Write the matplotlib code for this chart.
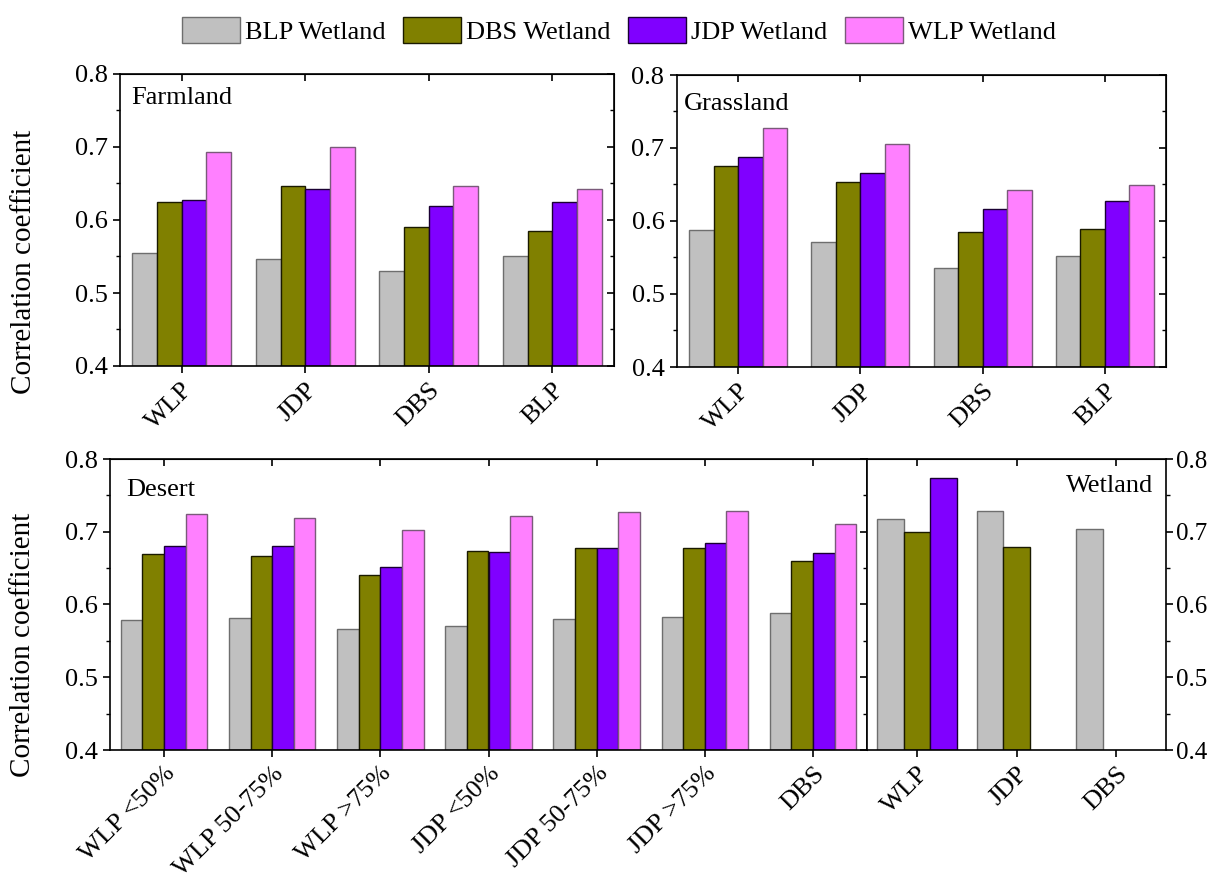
import numpy as np
import matplotlib.pyplot as plt
from matplotlib.patches import Patch
from matplotlib.ticker import MultipleLocator

plt.rcParams['font.family'] = ['Liberation Serif', 'DejaVu Serif']
plt.rcParams['font.size'] = 18

# Series (wetland groups) and their colours
series = ['BLP Wetland', 'DBS Wetland', 'JDP Wetland', 'WLP Wetland']
colors = ['#C0C0C0', '#808000', '#8000FF', '#FF80FF']
edges = ['#6E6E6E', '#1A1A00', '#1A0033', '#7A5A7A']

# Farmland
farm_labels = ['WLP', 'JDP', 'DBS', 'BLP']
farm_blp = [0.555, 0.547, 0.530, 0.550]
farm_dbs = [0.625, 0.646, 0.590, 0.585]
farm_jdp = [0.628, 0.642, 0.619, 0.625]
farm_wlp = [0.693, 0.700, 0.647, 0.643]

# Grassland
grass_labels = ['WLP', 'JDP', 'DBS', 'BLP']
grass_blp = [0.588, 0.571, 0.535, 0.552]
grass_dbs = [0.675, 0.653, 0.585, 0.589]
grass_jdp = [0.688, 0.666, 0.617, 0.627]
grass_wlp = [0.727, 0.706, 0.642, 0.649]

# Desert
desert_labels = ['WLP <50%', 'WLP 50-75%', 'WLP >75%', 'JDP <50%',
                 'JDP 50-75%', 'JDP >75%', 'DBS']
desert_blp = [0.579, 0.581, 0.567, 0.570, 0.580, 0.583, 0.589]
desert_dbs = [0.670, 0.666, 0.640, 0.674, 0.677, 0.677, 0.660]
desert_jdp = [0.680, 0.680, 0.652, 0.672, 0.678, 0.684, 0.671]
desert_wlp = [0.724, 0.719, 0.702, 0.722, 0.727, 0.729, 0.710]

# Wetland (no WLP series, JDP only for WLP group)
wet_labels = ['WLP', 'JDP', 'DBS']
wet_blp = [0.718, 0.729, 0.704]
wet_dbs = [0.699, 0.679, np.nan]
wet_jdp = [0.774, np.nan, np.nan]

fig = plt.figure(figsize=(12.09, 8.8), dpi=100)
W, H = 1209, 880


def rect(x0, x1, y0, y1):
    return [x0 / W, 1 - y1 / H, (x1 - x0) / W, (y1 - y0) / H]


def draw_panel(ax, labels, groups, name, name_pos, ha='left', ylab_side='left',
               mirror_left=True, mirror_right=True):
    n = len(groups)
    x = np.arange(len(labels))
    width = 0.8 / n
    for i, vals in enumerate(groups):
        off = (i - (n - 1) / 2) * width
        ax.bar(x + off, np.array(vals) - 0.4, width, bottom=0.4,
               color=colors[i], edgecolor=edges[i], linewidth=1.0)
    ax.set_xlim(-0.5, len(labels) - 0.5)
    ax.set_ylim(0.4, 0.8)
    ax.set_xticks(x)
    ax.set_xticklabels(labels, rotation=45, ha='right', va='top',
                       rotation_mode='anchor', fontsize=19)
    ax.yaxis.set_major_locator(MultipleLocator(0.1))
    ax.yaxis.set_minor_locator(MultipleLocator(0.05))
    ax.tick_params(axis='both', which='major', direction='out', length=5,
                   width=1.2, labelsize=19, pad=4)
    ax.tick_params(axis='y', which='minor', direction='out', length=3, width=1.0)
    if ylab_side == 'right':
        ax.yaxis.tick_right()
        ax.tick_params(axis='y', which='major', labelsize=18, pad=2)
    for sp in ax.spines.values():
        sp.set_linewidth(1.2)
    # inward ticks on the mirrored sides
    top = ax.secondary_xaxis('top')
    top.set_xticks(x)
    top.tick_params(direction='in', length=5, width=1.2, labeltop=False)
    other = 'right' if ylab_side == 'left' else 'left'
    if (other == 'right' and mirror_right) or (other == 'left' and mirror_left):
        sec = ax.secondary_yaxis(other)
        sec.yaxis.set_major_locator(MultipleLocator(0.1))
        sec.yaxis.set_minor_locator(MultipleLocator(0.05))
        sec.tick_params(which='major', direction='in', length=5, width=1.2,
                        labelleft=False, labelright=False)
        sec.tick_params(which='minor', direction='in', length=3, width=1.0)
    ax.text(name_pos[0], name_pos[1], name, transform=ax.transAxes,
            ha=ha, va='top', fontsize=19)


ax1 = fig.add_axes(rect(120, 614, 74, 366))
draw_panel(ax1, farm_labels, [farm_blp, farm_dbs, farm_jdp, farm_wlp],
           'Farmland', (0.022, 0.955))

ax2 = fig.add_axes(rect(677, 1166, 75, 367))
draw_panel(ax2, grass_labels, [grass_blp, grass_dbs, grass_jdp, grass_wlp],
           'Grassland', (0.014, 0.94))

ax3 = fig.add_axes(rect(110, 867, 459, 750))
draw_panel(ax3, desert_labels, [desert_blp, desert_dbs, desert_jdp, desert_wlp],
           'Desert', (0.022, 0.93))

ax4 = fig.add_axes(rect(867, 1166, 459, 750))
draw_panel(ax4, wet_labels, [wet_blp, wet_dbs, wet_jdp],
           'Wetland', (0.957, 0.945), ha='right', ylab_side='right',
           mirror_left=False)

# shared y labels
fig.text(24 / W, 1 - 262 / H, 'Correlation coefficient', rotation=90,
         ha='center', va='center', fontsize=21)
fig.text(23 / W, 1 - 645 / H, 'Correlation coefficient', rotation=90,
         ha='center', va='center', fontsize=21)

handles = [Patch(facecolor=c, edgecolor=e, linewidth=1.0)
           for c, e in zip(colors, edges)]
fig.legend(handles, series, loc='center', bbox_to_anchor=(0.512, 0.965),
           ncol=4, frameon=False, fontsize=19, handlelength=2.2,
           handleheight=1.1, handletextpad=0.2, columnspacing=0.65,
           borderaxespad=0)

fig.savefig('out.png', dpi=100)
